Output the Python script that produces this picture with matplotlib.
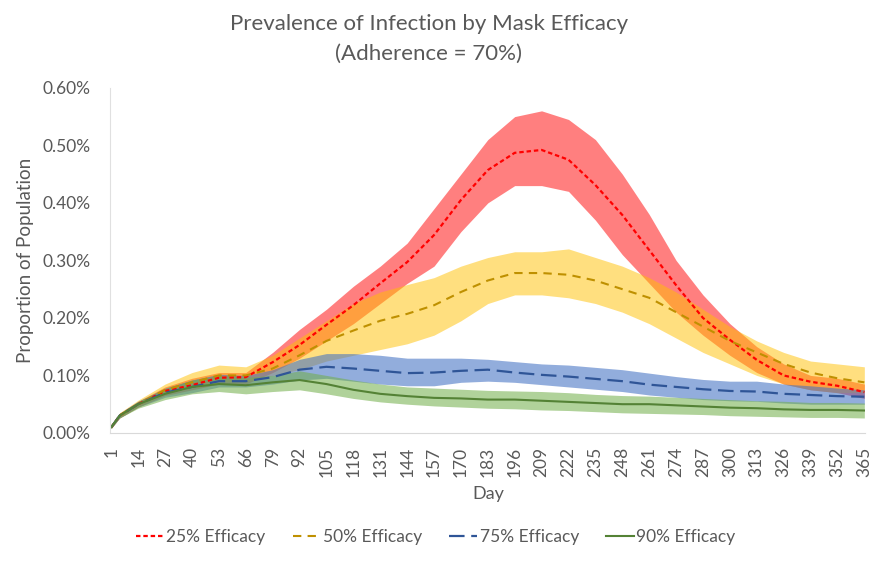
import numpy as np
import matplotlib.pyplot as plt

plt.rcParams['font.family'] = ['Lato', 'DejaVu Sans']

days = [1, 5, 14, 27, 40, 53, 66, 79, 92, 105, 118, 131, 144, 157, 170, 183,
        196, 209, 222, 235, 248, 261, 274, 287, 300, 313, 326, 339, 352, 365]
xticks = list(range(1, 366, 13))

# 25% efficacy (values in %)
red_mid = [0.010, 0.030, 0.050, 0.073, 0.083, 0.096, 0.097, 0.123, 0.153, 0.188, 0.222, 0.260, 0.297, 0.344, 0.405, 0.457,
           0.487, 0.492, 0.475, 0.431, 0.379, 0.318, 0.257, 0.200, 0.162, 0.127, 0.100, 0.089, 0.082, 0.071]
red_hi = [0.012, 0.034, 0.055, 0.080, 0.095, 0.105, 0.105, 0.140, 0.180, 0.215, 0.255, 0.290, 0.330, 0.390, 0.450, 0.510,
          0.550, 0.560, 0.545, 0.510, 0.450, 0.380, 0.300, 0.240, 0.190, 0.150, 0.120, 0.100, 0.095, 0.085]
red_lo = [0.008, 0.026, 0.045, 0.065, 0.075, 0.085, 0.085, 0.105, 0.130, 0.160, 0.190, 0.225, 0.260, 0.290, 0.350, 0.400,
          0.430, 0.430, 0.420, 0.370, 0.310, 0.260, 0.210, 0.170, 0.135, 0.105, 0.085, 0.075, 0.070, 0.060]

# 50% efficacy
yel_mid = [0.010, 0.030, 0.050, 0.075, 0.088, 0.100, 0.100, 0.112, 0.135, 0.160, 0.178, 0.195, 0.207, 0.222, 0.245, 0.265,
           0.278, 0.278, 0.275, 0.265, 0.250, 0.235, 0.210, 0.185, 0.160, 0.140, 0.120, 0.105, 0.095, 0.088]
yel_hi = [0.012, 0.035, 0.057, 0.085, 0.105, 0.118, 0.115, 0.135, 0.165, 0.195, 0.225, 0.245, 0.258, 0.270, 0.290, 0.305,
          0.315, 0.315, 0.320, 0.305, 0.290, 0.270, 0.245, 0.215, 0.185, 0.160, 0.140, 0.125, 0.120, 0.115]
yel_lo = [0.008, 0.026, 0.045, 0.068, 0.078, 0.088, 0.090, 0.100, 0.110, 0.125, 0.135, 0.145, 0.155, 0.170, 0.195, 0.225,
          0.240, 0.240, 0.235, 0.225, 0.210, 0.190, 0.165, 0.140, 0.120, 0.100, 0.085, 0.075, 0.070, 0.070]

# 75% efficacy
blu_mid = [0.010, 0.030, 0.050, 0.070, 0.080, 0.090, 0.090, 0.097, 0.110, 0.115, 0.112, 0.108, 0.104, 0.105, 0.108, 0.110,
           0.105, 0.101, 0.098, 0.094, 0.090, 0.084, 0.080, 0.076, 0.073, 0.072, 0.068, 0.066, 0.064, 0.063]
blu_hi = [0.012, 0.034, 0.055, 0.078, 0.092, 0.102, 0.100, 0.110, 0.128, 0.138, 0.138, 0.135, 0.130, 0.130, 0.130, 0.128,
          0.124, 0.120, 0.118, 0.114, 0.110, 0.104, 0.098, 0.093, 0.090, 0.090, 0.085, 0.082, 0.078, 0.075]
blu_lo = [0.008, 0.026, 0.045, 0.062, 0.070, 0.080, 0.080, 0.085, 0.092, 0.095, 0.090, 0.085, 0.082, 0.082, 0.088, 0.090,
          0.088, 0.084, 0.080, 0.076, 0.072, 0.066, 0.062, 0.058, 0.056, 0.055, 0.052, 0.050, 0.050, 0.050]

# 90% efficacy
grn_mid = [0.010, 0.030, 0.050, 0.068, 0.080, 0.085, 0.083, 0.088, 0.092, 0.085, 0.075, 0.068, 0.064, 0.061, 0.060, 0.058,
           0.058, 0.056, 0.054, 0.052, 0.050, 0.050, 0.048, 0.046, 0.044, 0.043, 0.041, 0.040, 0.040, 0.039]
grn_hi = [0.012, 0.034, 0.055, 0.077, 0.092, 0.100, 0.097, 0.100, 0.108, 0.100, 0.092, 0.085, 0.080, 0.078, 0.076, 0.074,
          0.073, 0.072, 0.070, 0.067, 0.065, 0.064, 0.062, 0.060, 0.058, 0.056, 0.055, 0.053, 0.053, 0.052]
grn_lo = [0.008, 0.026, 0.043, 0.058, 0.068, 0.072, 0.068, 0.072, 0.075, 0.068, 0.060, 0.054, 0.050, 0.047, 0.045, 0.043,
          0.042, 0.040, 0.039, 0.037, 0.035, 0.034, 0.033, 0.032, 0.030, 0.029, 0.028, 0.027, 0.027, 0.026]

gray = '#595959'

fig = plt.figure(figsize=(8.75, 5.63), dpi=100)
ax = fig.add_axes([0.126, 0.231, 0.863, 0.613])

# bands first (yellow over red gives the orange overlap)
ax.fill_between(days, red_lo, red_hi, color='#FF0000', alpha=0.5, lw=0)
ax.fill_between(days, yel_lo, yel_hi, color='#FFC000', alpha=0.5, lw=0)
ax.fill_between(days, blu_lo, blu_hi, color='#4472C4', alpha=0.58, lw=0)
ax.fill_between(days, grn_lo, grn_hi, color='#70AD47', alpha=0.55, lw=0)

ax.plot(days, red_mid, color='#FF0000', lw=1.6, dashes=(2, 1.3), label='25% Efficacy')
ax.plot(days, yel_mid, color='#BF9000', lw=1.5, dashes=(4, 3), label='50% Efficacy')
ax.plot(days, blu_mid, color='#2F5597', lw=1.6, dashes=(7, 3), label='75% Efficacy')
ax.plot(days, grn_mid, color='#548235', lw=1.5, label='90% Efficacy')

ax.set_xlim(0.5, 365.5)
ax.set_ylim(0, 0.6)
ax.set_xticks(xticks)
ax.set_xticklabels([str(d) for d in xticks], rotation=90)
yt = np.arange(0, 0.61, 0.1)
ax.set_yticks(yt)
ax.set_yticklabels(['%.2f%%' % v for v in yt])
ax.tick_params(length=0, colors=gray, labelsize=12.5)
ax.tick_params(axis='x', pad=10)
ax.tick_params(axis='y', pad=14)

for s in ['top', 'right']:
    ax.spines[s].set_visible(False)
ax.spines['left'].set_color('#E0E0E0')
ax.spines['bottom'].set_color('#D9D9D9')

ax.set_xlabel('Day', color=gray, fontsize=13, labelpad=6)
ax.set_ylabel('Proportion of Population', color=gray, fontsize=13.5, labelpad=6)

fig.text(0.49, 0.957, 'Prevalence of Infection by Mask Efficacy', ha='center', va='center',
         color=gray, fontsize=16)
fig.text(0.49, 0.905, '(Adherence = 70%)', ha='center', va='center', color=gray, fontsize=16)

fig.legend(loc='center', bbox_to_anchor=(0.498, 0.046), ncol=4, frameon=False,
           fontsize=12.5, labelcolor=gray, handlelength=1.6, columnspacing=1.55, handletextpad=0.15)

fig.savefig('out.png', dpi=100)
